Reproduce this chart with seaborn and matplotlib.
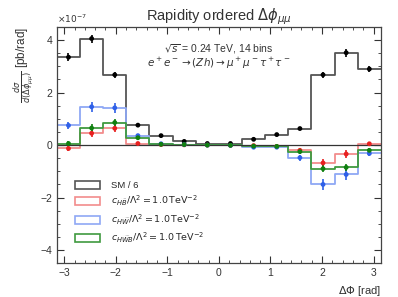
import numpy as np
import pandas as pd
import seaborn as sns
import matplotlib.pyplot as plt
from matplotlib.patches import Rectangle
from matplotlib.ticker import MultipleLocator

sns.set_style("ticks")
plt.rcParams['font.family'] = ['Liberation Sans', 'DejaVu Sans']
plt.rcParams['mathtext.fontset'] = 'dejavusans'

# 14 bins in delta phi, values in units of 1e-7 pb/rad
n_bins = 14
edges = np.linspace(-np.pi, np.pi, n_bins + 1)
centers = 0.5 * (edges[:-1] + edges[1:])

sm = [3.35, 4.06, 2.68, 0.76, 0.36, 0.14, 0.06, 0.06, 0.22, 0.40, 0.63, 2.68, 3.52, 2.90]
sm_err = [0.15, 0.15, 0.12, 0.07, 0.05, 0.04, 0.04, 0.04, 0.04, 0.05, 0.06, 0.12, 0.15, 0.13]
red = [-0.13, 0.45, 0.64, 0.06, 0.02, 0.01, 0.00, -0.01, -0.02, -0.05, -0.20, -0.68, -0.34, 0.05]
red_err = [0.08, 0.14, 0.14, 0.05, 0.03, 0.02, 0.02, 0.02, 0.03, 0.04, 0.08, 0.14, 0.14, 0.08]
blue = [0.75, 1.46, 1.42, 0.36, 0.05, 0.02, 0.00, -0.01, -0.08, -0.08, -0.48, -1.50, -1.12, -0.32]
blue_err = [0.12, 0.2, 0.2, 0.08, 0.03, 0.02, 0.02, 0.02, 0.03, 0.04, 0.12, 0.22, 0.2, 0.1]
green = [0.06, 0.65, 0.86, 0.28, 0.03, 0.02, 0.00, -0.01, -0.04, -0.05, -0.25, -0.90, -0.85, -0.20]
green_err = [0.08, 0.14, 0.14, 0.07, 0.03, 0.02, 0.02, 0.02, 0.03, 0.04, 0.08, 0.14, 0.14, 0.08]

labels = ['SM / 6',
          r'$c_{H\widetilde{B}}/\Lambda^2 = 1.0\,\mathrm{TeV}^{-2}$',
          r'$c_{H\widetilde{W}}/\Lambda^2 = 1.0\,\mathrm{TeV}^{-2}$',
          r'$c_{H\widetilde{W}B}/\Lambda^2 = 1.0\,\mathrm{TeV}^{-2}$']
line_colors = ['#555555', '#f28c8c', '#8fa8f5', '#3f9a3f']
dot_colors = ['black', '#e82020', '#2f60e8', '#108010']

series = [(sm, sm_err), (red, red_err), (blue, blue_err), (green, green_err)]

fig = plt.figure(figsize=(3.98, 2.97), dpi=100)
ax = fig.add_axes([0.143, 0.114, 0.814, 0.795])

handles = []
for (vals, errs), lc, dc, lab in zip(series, line_colors, dot_colors, labels):
    df = pd.DataFrame({'x': centers, 'w': vals})
    sns.histplot(data=df, x='x', weights='w', bins=n_bins, binrange=(-np.pi, np.pi),
                 element='step', fill=False, color=lc, linewidth=1.3, ax=ax)
    ax.errorbar(centers, vals, yerr=errs, fmt='none', ecolor=dc, elinewidth=1.2)
    sns.scatterplot(x=centers, y=vals, color=dc, s=12, edgecolor='none', ax=ax, zorder=5)
    handles.append(Rectangle((0, 0), 1, 1, facecolor='white', edgecolor=lc, linewidth=1.2))

ax.axhline(0, color='#333333', linewidth=0.9)

ax.set_xlim(-np.pi, np.pi)
ax.set_ylim(-4.5, 4.5)
ax.xaxis.set_major_locator(MultipleLocator(1))
ax.xaxis.set_minor_locator(MultipleLocator(0.2))
ax.yaxis.set_major_locator(MultipleLocator(2))
ax.yaxis.set_minor_locator(MultipleLocator(0.5))
ax.tick_params(which='both', direction='in', top=True, right=True, labelsize=7.5, colors='#333333')
ax.tick_params(which='major', length=5)
ax.tick_params(which='minor', length=2.5)
for s in ax.spines.values():
    s.set_color('#444444')
    s.set_linewidth(0.9)

ax.set_xlabel(r'$\Delta\Phi$ [rad]', fontsize=8, loc='right', color='#333333')
ax.set_ylabel(r'$\frac{d\sigma}{d(\Delta\phi_{\mu\mu})}$ [pb/rad]', fontsize=8.5, loc='top', color='#333333')
ax.set_title(r'Rapidity ordered $\Delta\phi_{\mu\mu}$', fontsize=10.5, pad=3, color='#333333')
ax.text(0.0, 1.015, r'$\times10^{-7}$', transform=ax.transAxes, fontsize=6.5, color='#333333')

ax.text(0.5, 0.905, r'$\sqrt{s}$ = 0.24 TeV, 14 bins', transform=ax.transAxes, ha='center', va='center', fontsize=7.5, color='#333333')
ax.text(0.5, 0.845, r'$e^+e^- \rightarrow (Zh) \rightarrow \mu^+\mu^-\tau^+\tau^-$', transform=ax.transAxes, ha='center', va='center', fontsize=7.5, color='#333333')

ax.legend(handles, labels, loc='upper left', bbox_to_anchor=(0.03, 0.385), frameon=False,
          fontsize=6.8, handlelength=2.6, handleheight=0.9, labelspacing=0.45, handletextpad=1.2)

fig.savefig('out.png', dpi=100)
